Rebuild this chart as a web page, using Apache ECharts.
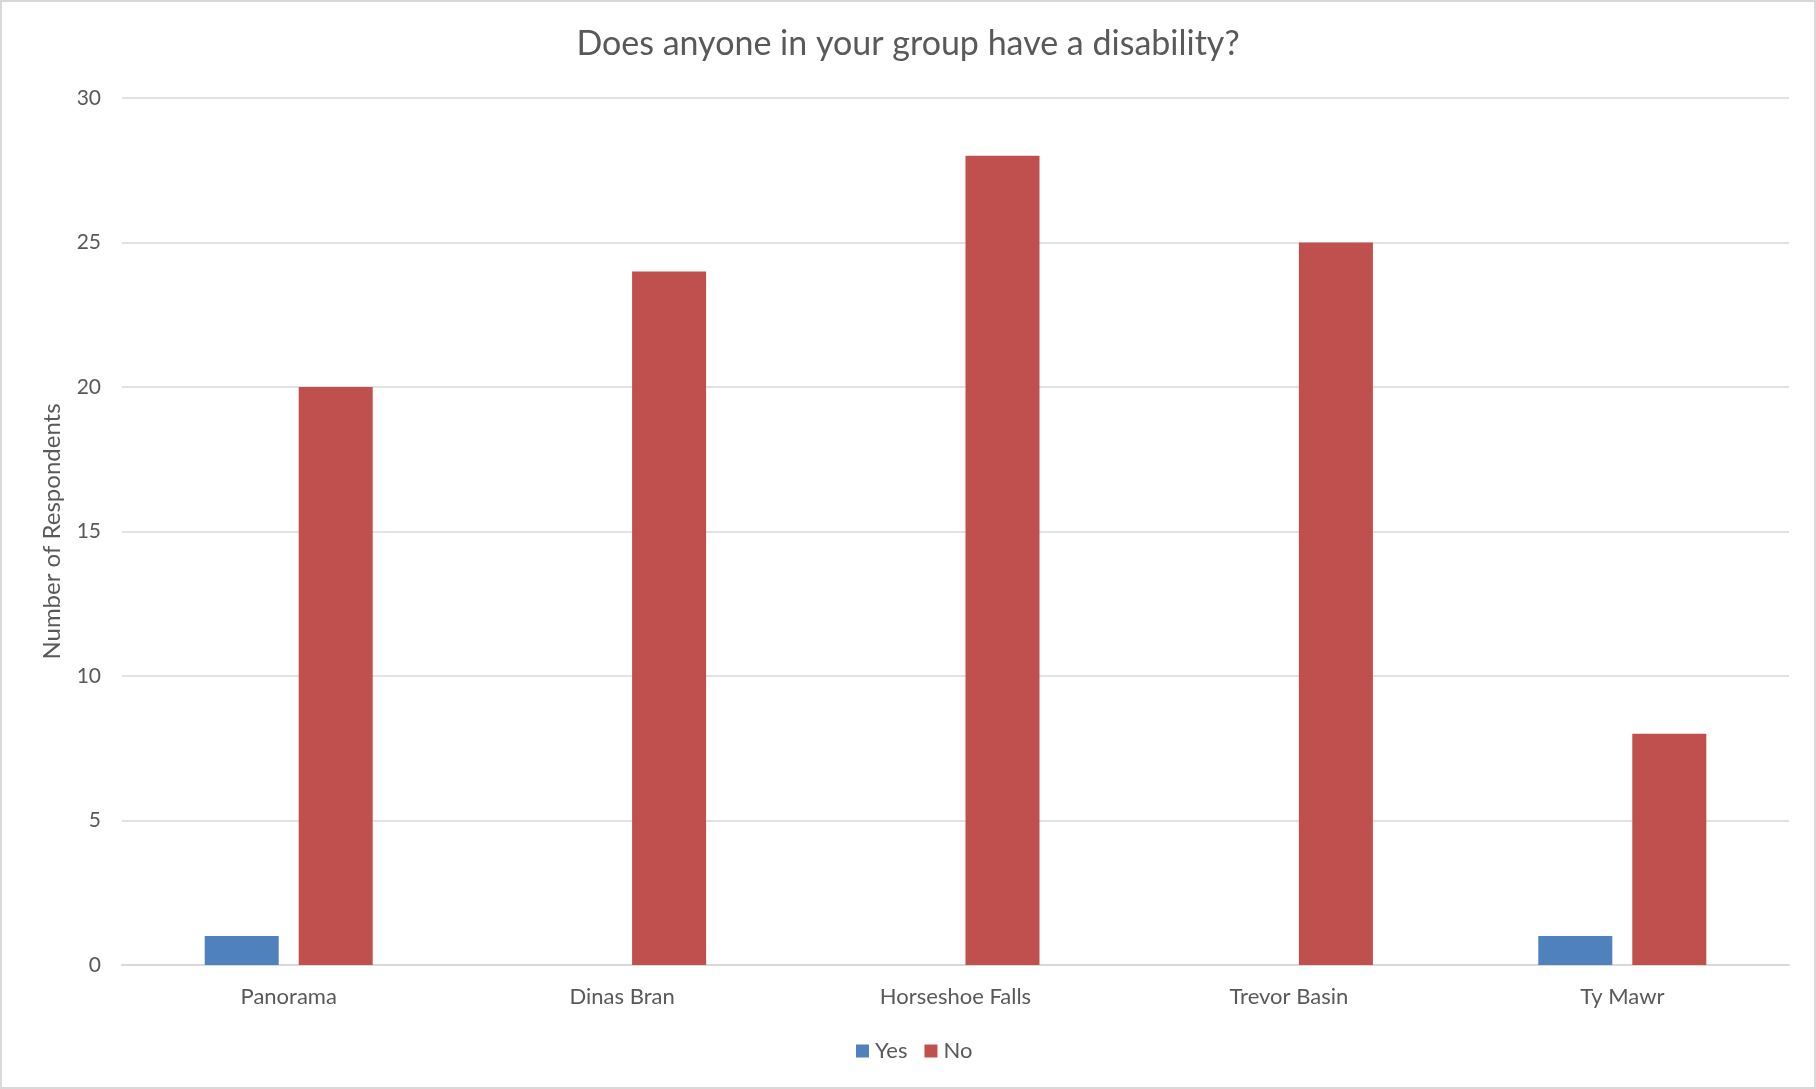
<!DOCTYPE html>
<html>
<head>
<meta charset="utf-8">
<script src="https://cdn.jsdelivr.net/npm/echarts@6/dist/echarts.min.js"></script>
<style>
html,body{margin:0;padding:0;background:#fff;}
#c{width:1816px;height:1089px;}
</style>
</head>
<body>
<div id="c"></div>
<script>
const categories = ['Panorama', 'Dinas Bran', 'Horseshoe Falls', 'Trevor Basin', 'Ty Mawr'];
const yesValues = [1, 0, 0, 0, 1];
const noValues = [20, 24, 28, 25, 8];
const seriesNames = ['Yes', 'No'];
const titleText = 'Does anyone in your group have a disability?';
const yAxisName = 'Number of Respondents';

const FONT = 'Lato';
const TXT = '#595959';
const chart = echarts.init(document.getElementById('c'));
chart.setOption({
  animation: false,
  backgroundColor: '#fff',
  textStyle: {fontFamily: FONT},
  title: {
    text: titleText,
    left: 'center',
    top: 22,
    textStyle: {fontFamily: FONT, fontSize: 34, fontWeight: 'normal', color: TXT}
  },
  graphic: [{
    type: 'rect',
    shape: {x: 1, y: 1, width: 1814, height: 1087},
    style: {fill: 'none', stroke: '#d9d9d9', lineWidth: 2},
    silent: true
  }],
  legend: {
    data: seriesNames,
    bottom: 22,
    left: 856,
    padding: [5, 0, 5, 0],
    itemWidth: 13,
    itemHeight: 13,
    itemGap: 17,
    icon: 'rect',
    textStyle: {fontFamily: FONT, fontSize: 22, color: TXT, padding: [0, 0, 0, 1]}
  },
  grid: {left: 122, right: 27, top: 98, bottom: 124},
  xAxis: {
    type: 'category',
    data: categories,
    axisLine: {lineStyle: {color: '#d9d9d9', width: 2}},
    axisTick: {show: false},
    axisLabel: {fontFamily: FONT, fontSize: 22, color: TXT, margin: 21}
  },
  yAxis: {
    type: 'value',
    min: 0, max: 30, interval: 5,
    name: yAxisName,
    nameLocation: 'middle',
    nameGap: 58,
    nameTextStyle: {fontFamily: FONT, fontSize: 24, color: TXT},
    axisLine: {show: false},
    axisTick: {show: false},
    axisLabel: {fontFamily: FONT, fontSize: 21, color: TXT, margin: 21},
    splitLine: {lineStyle: {color: '#d9d9d9', width: 1.5}}
  },
  series: [
    {name: 'Yes', type: 'bar', data: yesValues, barWidth: '22.2%', barGap: '27%', itemStyle: {color: '#4F81BD'}},
    {name: 'No', type: 'bar', data: noValues, barWidth: '22.2%', barGap: '27%', itemStyle: {color: '#C0504D'}}
  ]
});
</script>
</body>
</html>
